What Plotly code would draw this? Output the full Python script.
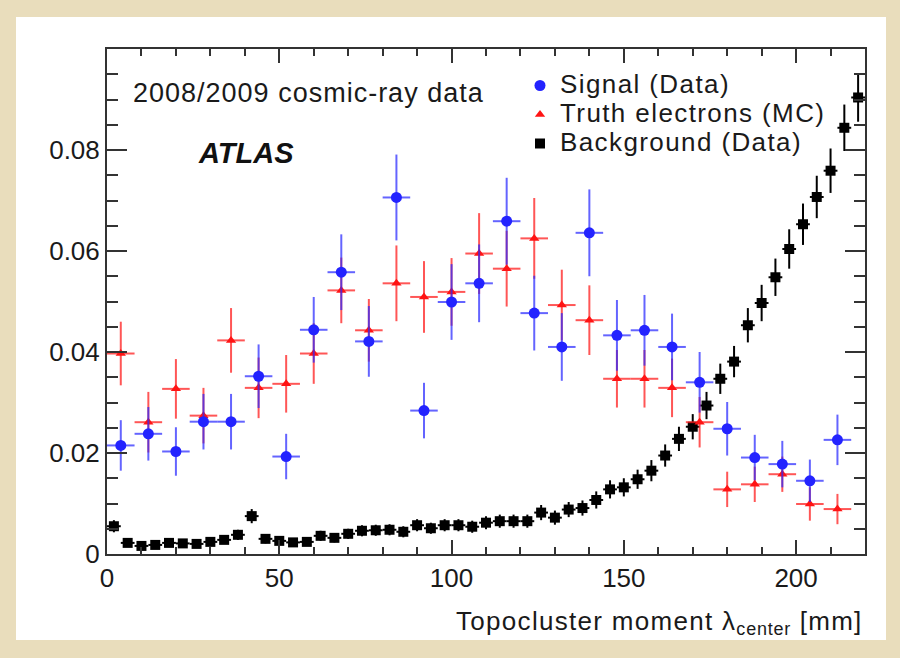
import plotly.graph_objects as go

# ---------------- data ----------------
bg_x = [2, 6, 10, 14, 18, 22, 26, 30, 34, 38,
        42, 46, 50, 54, 58, 62, 66, 70, 74, 78,
        82, 86, 90, 94, 98, 102, 106, 110, 114, 118,
        122, 126, 130, 134, 138, 142, 146, 150, 154, 158,
        162, 166, 170, 174, 178, 182, 186, 190, 194, 198,
        202, 206, 210, 214, 218]
bg_y = [0.0055, 0.0022, 0.0016, 0.0018, 0.0022, 0.0021, 0.0020, 0.0024, 0.0028, 0.0038,
        0.0075, 0.0030, 0.0026, 0.0023, 0.0024, 0.0036, 0.0032, 0.0040, 0.0046, 0.0047,
        0.0048, 0.0044, 0.0057, 0.0051, 0.0057, 0.0057, 0.0054, 0.0062, 0.0065, 0.0065,
        0.0065, 0.0082, 0.0072, 0.0088, 0.0091, 0.0107, 0.0128, 0.0132, 0.0148, 0.0165,
        0.0195, 0.0228, 0.0252, 0.0294, 0.0347, 0.0381, 0.0453, 0.0497, 0.0548, 0.0604,
        0.0653, 0.0707, 0.0759, 0.0844, 0.0904]
bg_err = [0.0012, 0.0007, 0.0006, 0.0007, 0.0007, 0.0007, 0.0007, 0.0008, 0.0008, 0.0010,
          0.0014, 0.0009, 0.0008, 0.0008, 0.0008, 0.0010, 0.0009, 0.0010, 0.0011, 0.0011,
          0.0011, 0.0011, 0.0012, 0.0011, 0.0012, 0.0012, 0.0012, 0.0013, 0.0013, 0.0013,
          0.0013, 0.0015, 0.0014, 0.0015, 0.0015, 0.0017, 0.0018, 0.0018, 0.0019, 0.0021,
          0.0022, 0.0024, 0.0025, 0.0027, 0.0030, 0.0031, 0.0034, 0.0036, 0.0037, 0.0039,
          0.0041, 0.0042, 0.0044, 0.0046, 0.0048]

sig_x = [4, 12, 20, 28, 36, 44, 52, 60, 68, 76, 84, 92, 100, 108,
         116, 124, 132, 140, 148, 156, 164, 172, 180, 188, 196, 204, 212]
sig_y = [0.0215, 0.0238, 0.0203, 0.0262, 0.0262, 0.0352, 0.0193, 0.0444, 0.0558, 0.0421,
         0.0706, 0.0284, 0.0499, 0.0536, 0.0659, 0.0477, 0.0410, 0.0636, 0.0433, 0.0443,
         0.0410, 0.0340, 0.0248, 0.0191, 0.0178, 0.0145, 0.0226]
sig_err = [0.0050, 0.0053, 0.0048, 0.0055, 0.0055, 0.0063, 0.0045, 0.0065, 0.0075, 0.0070,
           0.0085, 0.0055, 0.0075, 0.0077, 0.0086, 0.0074, 0.0067, 0.0086, 0.0070, 0.0070,
           0.0066, 0.0060, 0.0053, 0.0045, 0.0046, 0.0042, 0.0050]

mc_x = [4, 12, 20, 28, 36, 44, 52, 60, 68, 76, 84, 92, 100, 108,
        116, 124, 132, 140, 148, 156, 164, 172, 180, 188, 196, 204, 212]
mc_y = [0.0397, 0.0261, 0.0327, 0.0274, 0.0423, 0.0329, 0.0337, 0.0397, 0.0522, 0.0443,
        0.0536, 0.0509, 0.0519, 0.0595, 0.0565, 0.0625, 0.0493, 0.0463, 0.0347, 0.0347,
        0.0329, 0.0261, 0.0128, 0.0138, 0.0158, 0.0099, 0.0089]
mc_err = [0.0063, 0.0060, 0.0059, 0.0055, 0.0064, 0.0060, 0.0057, 0.0060, 0.0065, 0.0062,
          0.0075, 0.0071, 0.0067, 0.0080, 0.0075, 0.0080, 0.0070, 0.0069, 0.0057, 0.0057,
          0.0058, 0.0050, 0.0035, 0.0035, 0.0035, 0.0033, 0.0030]

x_tickvals = [0, 50, 100, 150, 200]
y_tickvals = [0, 0.02, 0.04, 0.06, 0.08]
y_ticktext = ["0", "0.02", "0.04", "0.06", "0.08"]

FONT = "Liberation Sans, Arial, Helvetica, sans-serif"
AX = "#333333"


def wide(txt, size, spacing):
    return f"<span style='font-size:{size}px;letter-spacing:{spacing}px'>{txt}</span>"


fig = go.Figure()

fig.add_trace(go.Scatter(
    x=bg_x, y=bg_y, mode="markers", name=wide("Background (Data)", 26, 1.4),
    marker=dict(symbol="square", size=10, color="black"),
    error_y=dict(type="data", array=bg_err, color="black", thickness=2, width=0),
    error_x=dict(type="constant", value=2, color="black", thickness=2, width=0),
))
fig.add_trace(go.Scatter(
    x=mc_x, y=mc_y, mode="markers", name=wide("Truth electrons (MC)", 26, 1.4),
    marker=dict(symbol="triangle-up", size=9, color="rgb(255,20,20)"),
    error_y=dict(type="data", array=mc_err, color="rgba(255,30,30,0.75)", thickness=2, width=0),
    error_x=dict(type="constant", value=4, color="rgba(255,30,30,0.75)", thickness=2, width=0),
))
fig.add_trace(go.Scatter(
    x=sig_x, y=sig_y, mode="markers", name=wide("Signal (Data)", 26, 1.4),
    marker=dict(symbol="circle", size=11, color="rgb(35,35,255)"),
    error_y=dict(type="data", array=sig_err, color="rgba(40,40,255,0.72)", thickness=2, width=0),
    error_x=dict(type="constant", value=4, color="rgba(40,40,255,0.72)", thickness=2, width=0),
))

W, H = 900, 658
ml, mr, mt, mb = 107, 35, 49, 104
pw, ph = W - ml - mr, H - mt - mb


def px(x):
    return (x - ml) / pw


def py(y):
    return (H - mb - y) / ph


fig.update_layout(
    width=W, height=H,
    margin=dict(l=ml, r=mr, t=mt, b=mb, pad=0),
    paper_bgcolor="rgb(233,221,188)",
    plot_bgcolor="white",
    font=dict(family=FONT, color="#1a1a1a", size=26),
    showlegend=True,
    legend=dict(
        x=px(520), y=py(66), xanchor="left", yanchor="top",
        bgcolor="rgba(0,0,0,0)", borderwidth=0,
        font=dict(family=FONT, size=20, color="#1a1a1a"),
        traceorder="reversed", itemwidth=30,
    ),
    xaxis=dict(
        range=[0, 220], tickmode="array", tickvals=x_tickvals,
        ticks="inside", ticklen=14, tickwidth=2, tickcolor=AX,
        showline=True, linecolor=AX, linewidth=2, mirror="ticks",
        showgrid=False, zeroline=False,
        tickfont=dict(family=FONT, size=26, color="#1a1a1a"),
        minor=dict(tickmode="linear", tick0=0, dtick=10, ticks="inside",
                   ticklen=7, tickwidth=1.5, tickcolor=AX, showgrid=False),
    ),
    yaxis=dict(
        range=[0, 0.1], tickmode="array", tickvals=y_tickvals, ticktext=y_ticktext,
        ticks="inside", ticklen=20, tickwidth=2, tickcolor=AX,
        showline=True, linecolor=AX, linewidth=2, mirror="ticks",
        showgrid=False, zeroline=False,
        tickfont=dict(family=FONT, size=26, color="#1a1a1a"),
        minor=dict(tickmode="linear", tick0=0, dtick=0.005, ticks="inside",
                   ticklen=11, tickwidth=1.5, tickcolor=AX, showgrid=False),
    ),
    shapes=[dict(
        type="rect", xref="paper", yref="paper", layer="below",
        x0=px(16), x1=px(886), y0=py(640), y1=py(17),
        fillcolor="white", line=dict(width=0),
    )],
    annotations=[
        dict(text=wide("Topocluster moment λ", 26, 1.3) + "<sub>" + wide("center", 18, 0.8) + "</sub>" + wide(" [mm]", 26, 1.3),
             x=1.0, y=py(622),
             xref="paper", yref="paper", xanchor="right", yanchor="middle",
             showarrow=False, font=dict(family=FONT, size=26, color="#1a1a1a")),
        dict(text=wide("2008/2009 cosmic-ray data", 27, 1.0), x=px(131), y=py(93),
             xref="paper", yref="paper", xanchor="left", yanchor="middle",
             showarrow=False, font=dict(family=FONT, size=27, color="#1a1a1a")),
        dict(text="<b><i>ATLAS</i></b>", x=px(196), y=py(153),
             xref="paper", yref="paper", xanchor="left", yanchor="middle",
             showarrow=False, font=dict(family=FONT, size=29, color="#111111")),
    ],
)

fig.write_html("out.html")
